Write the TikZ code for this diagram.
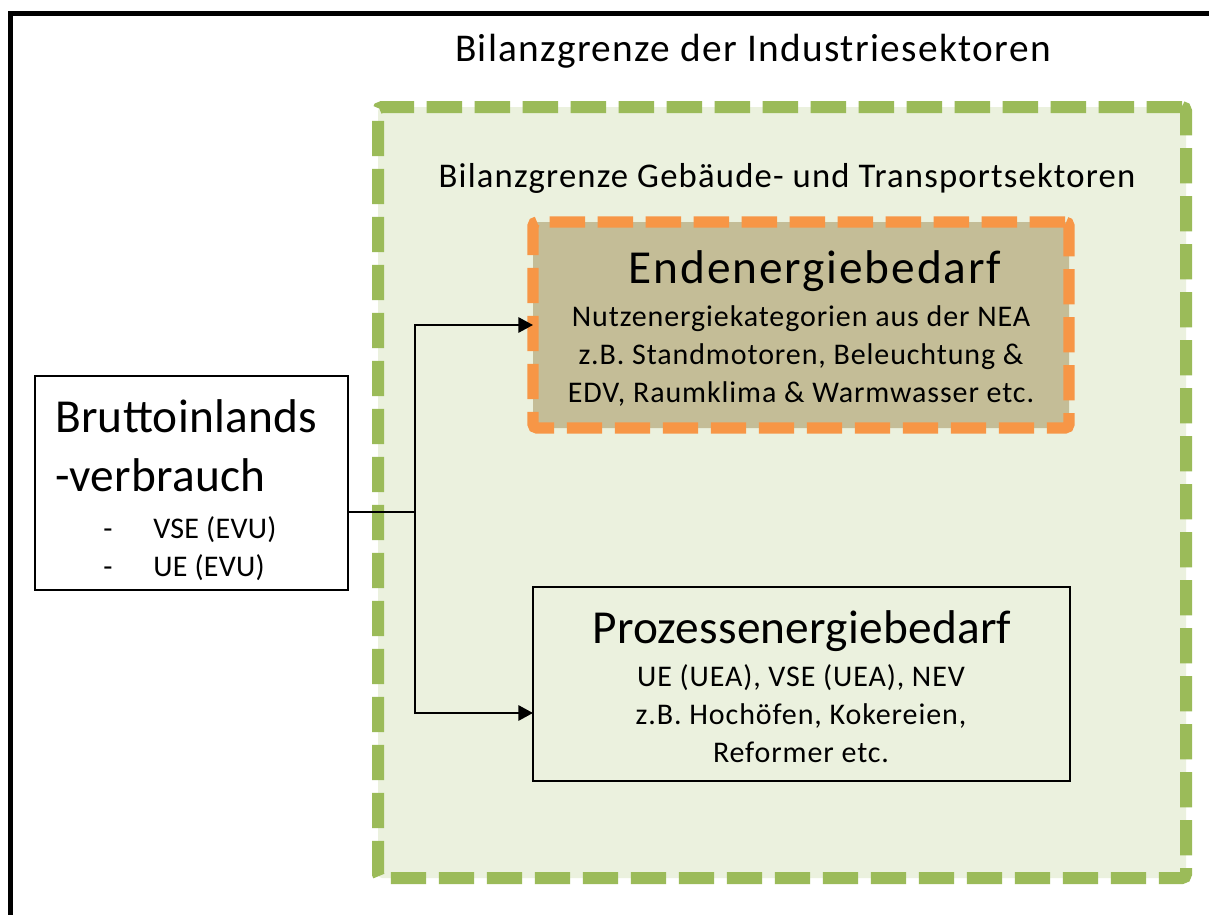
\documentclass[tikz,border=0pt]{standalone}
\usepackage{fontspec}
\setmainfont{Carlito}
\usetikzlibrary{arrows.meta,calc}
\definecolor{grn}{HTML}{9BBB59}
\definecolor{grnfill}{HTML}{EBF1DE}
\definecolor{org}{HTML}{F79646}
\definecolor{tanfill}{HTML}{C4BD97}
\begin{document}
\begin{tikzpicture}[x=0.75pt,y=-0.75pt,
  frameline/.style={line width=3.75pt},
  greenbox/.style={draw=grn,fill=grnfill,line width=9pt,dash pattern=on 26.5pt off 9.5pt,rounded corners=3pt,outer sep=0pt},
  orangebox/.style={draw=org,fill=tanfill,line width=8.5pt,dash pattern=on 26.5pt off 9.5pt,rounded corners=3pt,outer sep=0pt},
  plainbox/.style={draw=black,line width=1.5pt,outer sep=0pt},
  conn/.style={line width=1.5pt},
  arr/.style={conn,-{Triangle[length=11pt,width=11.5pt]}},
  titleA/.style={font=\fontsize{29.5}{35}\selectfont\addfontfeatures{LetterSpace=3.4},inner sep=0pt},
  titleB/.style={font=\fontsize{26}{31}\selectfont\addfontfeatures{LetterSpace=3.4},inner sep=0pt},
  bigtxt/.style={font=\fontsize{35.5}{42}\selectfont\addfontfeatures{LetterSpace=0.5},inner sep=0pt},
  endtxt/.style={font=\fontsize{35.5}{42}\selectfont\addfontfeatures{LetterSpace=4.0},inner sep=0pt},
  subtxt/.style={font=\fontsize{22.5}{27}\selectfont\addfontfeatures{LetterSpace=3.0},inner sep=0pt},
  brsub/.style={font=\fontsize{22.5}{27}\selectfont\addfontfeatures{LetterSpace=1.0},inner sep=0pt}
]
\useasboundingbox (0,0) rectangle (1209,914);
\fill[white] (0,0) rectangle (1209,914);
\clip (0,0) rectangle (1209,914);
% outer frame (left and top visible)
\draw[frameline] (10,1000) -- (10,13.5) -- (1300,13.5);
\node[titleA,anchor=base] (titleA) at (753,61) {Bilanzgrenze der Industriesektoren};
% green boundary
\node[greenbox,minimum width=606pt,minimum height=578.25pt] (green) at (782,492.5) {};
\node[titleB,anchor=base] (titleB) at (787,187) {Bilanzgrenze Gebäude- und Transportsektoren};
% Endenergiebedarf
\node[orangebox,minimum width=402pt,minimum height=154.5pt] (endenergie) at (801,325) {};
\node[endtxt,anchor=base] (endtitle) at (815,283) {Endenergiebedarf};
\node[subtxt,anchor=base] (endl1) at (801,326) {Nutzenergiekategorien aus der NEA};
\node[subtxt,anchor=base] (endl2) at (801,364) {z.B. Standmotoren, Beleuchtung \&};
\node[subtxt,anchor=base] (endl3) at (801,402) {EDV, Raumklima \& Warmwasser etc.};
% Prozessenergiebedarf
\node[plainbox,minimum width=402.75pt,minimum height=145.5pt] (prozess) at (801.5,684) {};
\node[bigtxt,anchor=base] (protitle) at (802,643) {Prozessenergiebedarf};
\node[subtxt,anchor=base] (prol1) at (801,686) {UE (UEA), VSE (UEA), NEV};
\node[subtxt,anchor=base] (prol2) at (801,724) {z.B. Hochöfen, Kokereien,};
\node[subtxt,anchor=base] (prol3) at (801,762) {Reformer etc.};
% Bruttoinlandsverbrauch
\node[plainbox,fill=white,minimum width=234.75pt,minimum height=160.5pt] (brutto) at (191.5,483) {};
\node[bigtxt,anchor=base west] (brl1) at (55,432) {Bruttoinlands};
\node[bigtxt,anchor=base west] (brl2) at (55,491) {-verbrauch};
\node[brsub,anchor=base west] (dash1) at (103,538) {-};
\node[brsub,anchor=base west] (brl3) at (153,538) {VSE (EVU)};
\node[brsub,anchor=base west] (dash2) at (103,576) {-};
\node[brsub,anchor=base west] (brl4) at (153,576) {UE (EVU)};
% connectors
\coordinate (split) at (415,512);
\coordinate (ptarget) at (prozess.west |- 0,713);
\draw[conn] (brutto.east |- split) -- (split);
\draw[arr] (split) |- (endenergie.west);
\draw[arr] (split) |- (ptarget);
\end{tikzpicture}
\end{document}
